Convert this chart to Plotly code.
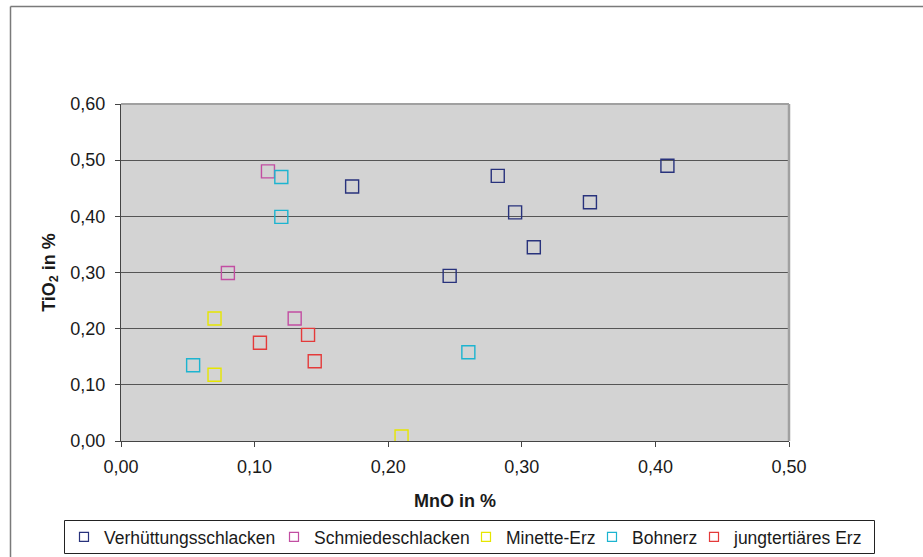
import plotly.graph_objects as go

# ---- data ----
series_names = ["Verhüttungsschlacken", "Schmiedeschlacken", "Minette-Erz", "Bohnerz", "jungtertiäres Erz"]

verh_mno = [0.173, 0.282, 0.295, 0.351, 0.409, 0.309, 0.246]
verh_tio2 = [0.453, 0.472, 0.407, 0.425, 0.490, 0.345, 0.294]

schm_mno = [0.110, 0.080, 0.130]
schm_tio2 = [0.480, 0.299, 0.218]

min_mno = [0.070, 0.070, 0.210]
min_tio2 = [0.218, 0.118, 0.008]

bohn_mno = [0.120, 0.120, 0.054, 0.260]
bohn_tio2 = [0.470, 0.399, 0.135, 0.158]

jung_mno = [0.140, 0.104, 0.145]
jung_tio2 = [0.189, 0.175, 0.142]

x_ticks = [0.0, 0.1, 0.2, 0.3, 0.4, 0.5]
y_ticks = [0.0, 0.1, 0.2, 0.3, 0.4, 0.5, 0.6]

colors = ["#28327c", "#c24ea2", "#e6e600", "#1cb4d0", "#e43a3a"]
xs = [verh_mno, schm_mno, min_mno, bohn_mno, jung_mno]
ys = [verh_tio2, schm_tio2, min_tio2, bohn_tio2, jung_tio2]

FONT = "Liberation Sans, Arial, sans-serif"

W, H = 923, 557
L, R, T, B = 121, 134, 104, 116
pw, ph = W - L - R, H - T - B


def px_x(p):
    return (p - L) / pw


def px_y(p):
    return (H - B - p) / ph


# legend entry text start (px) for each series, one legend per entry
legend_text_x = [101, 311, 503, 629, 731]
legend_ids = ["legend", "legend2", "legend3", "legend4", "legend5"]

fig = go.Figure()
for name, x, y, c in zip(series_names, xs, ys, colors):
    fig.add_trace(go.Scatter(
        x=x, y=y, mode="markers", name=name, showlegend=False,
        marker=dict(symbol="square-open", size=13, color=c, line=dict(color=c, width=1.4)),
        hoverinfo="x+y+name",
    ))
# legend-only entries with smaller markers
for name, c, lid in zip(series_names, colors, legend_ids):
    fig.add_trace(go.Scatter(
        x=[None], y=[None], mode="markers", name=name, showlegend=True, legend=lid,
        marker=dict(symbol="square-open", size=9, color=c, line=dict(color=c, width=1.2)),
    ))

legend_common = dict(
    orientation="h", xanchor="left", yanchor="middle",
    y=px_y(537), bgcolor="rgba(0,0,0,0)", borderwidth=0,
    font=dict(family=FONT, size=17.5, color="#1a1a1a"),
    itemwidth=30,
)
legend_layouts = {}
for lid, tx in zip(legend_ids, legend_text_x):
    legend_layouts[lid] = dict(legend_common, x=px_x(tx - 37))

fig.update_layout(
    width=W, height=H,
    margin=dict(l=L, r=R, t=T, b=B, pad=0, autoexpand=False),
    paper_bgcolor="white",
    plot_bgcolor="#d3d3d3",
    separators=",.",
    font=dict(family=FONT, size=17, color="#1a1a1a"),
    showlegend=True,
    xaxis=dict(
        range=[0, 0.5], tickvals=x_ticks, tickformat=".2f",
        showgrid=False, zeroline=False, automargin=False,
        showline=True, linecolor="#444444", linewidth=1,
        ticks="outside", ticklen=5, tickcolor="#444444",
        tickfont=dict(family=FONT, size=18, color="#1a1a1a"),
        ticklabelstandoff=4,
        title=dict(text="<b>MnO in %</b>", font=dict(family=FONT, size=18, color="#1a1a1a"), standoff=18),
    ),
    yaxis=dict(
        range=[0, 0.6], tickvals=y_ticks, tickformat=".2f",
        showgrid=True, gridcolor="#555555", gridwidth=1,
        zeroline=False, automargin=False,
        showline=True, linecolor="#444444", linewidth=1,
        ticks="outside", ticklen=5, tickcolor="#444444",
        tickfont=dict(family=FONT, size=18, color="#1a1a1a"),
        ticklabelstandoff=6,
        title=dict(text="<b>TiO<sub>2</sub> in %</b>", font=dict(family=FONT, size=18, color="#1a1a1a"), standoff=10),
    ),
    shapes=[
        # plot area top/right border
        dict(type="line", xref="paper", yref="paper", x0=0, x1=1, y0=1, y1=1,
             line=dict(color="#a0a0a0", width=2), layer="above"),
        dict(type="line", xref="paper", yref="paper", x0=1, x1=1, y0=0, y1=1,
             line=dict(color="#a0a0a0", width=2.5), layer="above"),
        # outer chart frame (left and top edges visible)
        dict(type="line", xref="paper", yref="paper", x0=px_x(10.5), x1=px_x(10.5), y0=px_y(6.5), y1=px_y(570),
             line=dict(color="#7a7a7a", width=1.5)),
        dict(type="line", xref="paper", yref="paper", x0=px_x(10.5), x1=px_x(940), y0=px_y(6.5), y1=px_y(6.5),
             line=dict(color="#7a7a7a", width=1.5)),
        # legend frame
        dict(type="rect", xref="paper", yref="paper", x0=px_x(64.5), x1=px_x(874.5), y0=px_y(520.5), y1=px_y(553.5),
             line=dict(color="#222222", width=1), fillcolor="white", layer="above"),
    ],
    **legend_layouts,
)

fig.write_html("out.html", config={"displayModeBar": False},
               post_script="document.body.style.margin='0';")
